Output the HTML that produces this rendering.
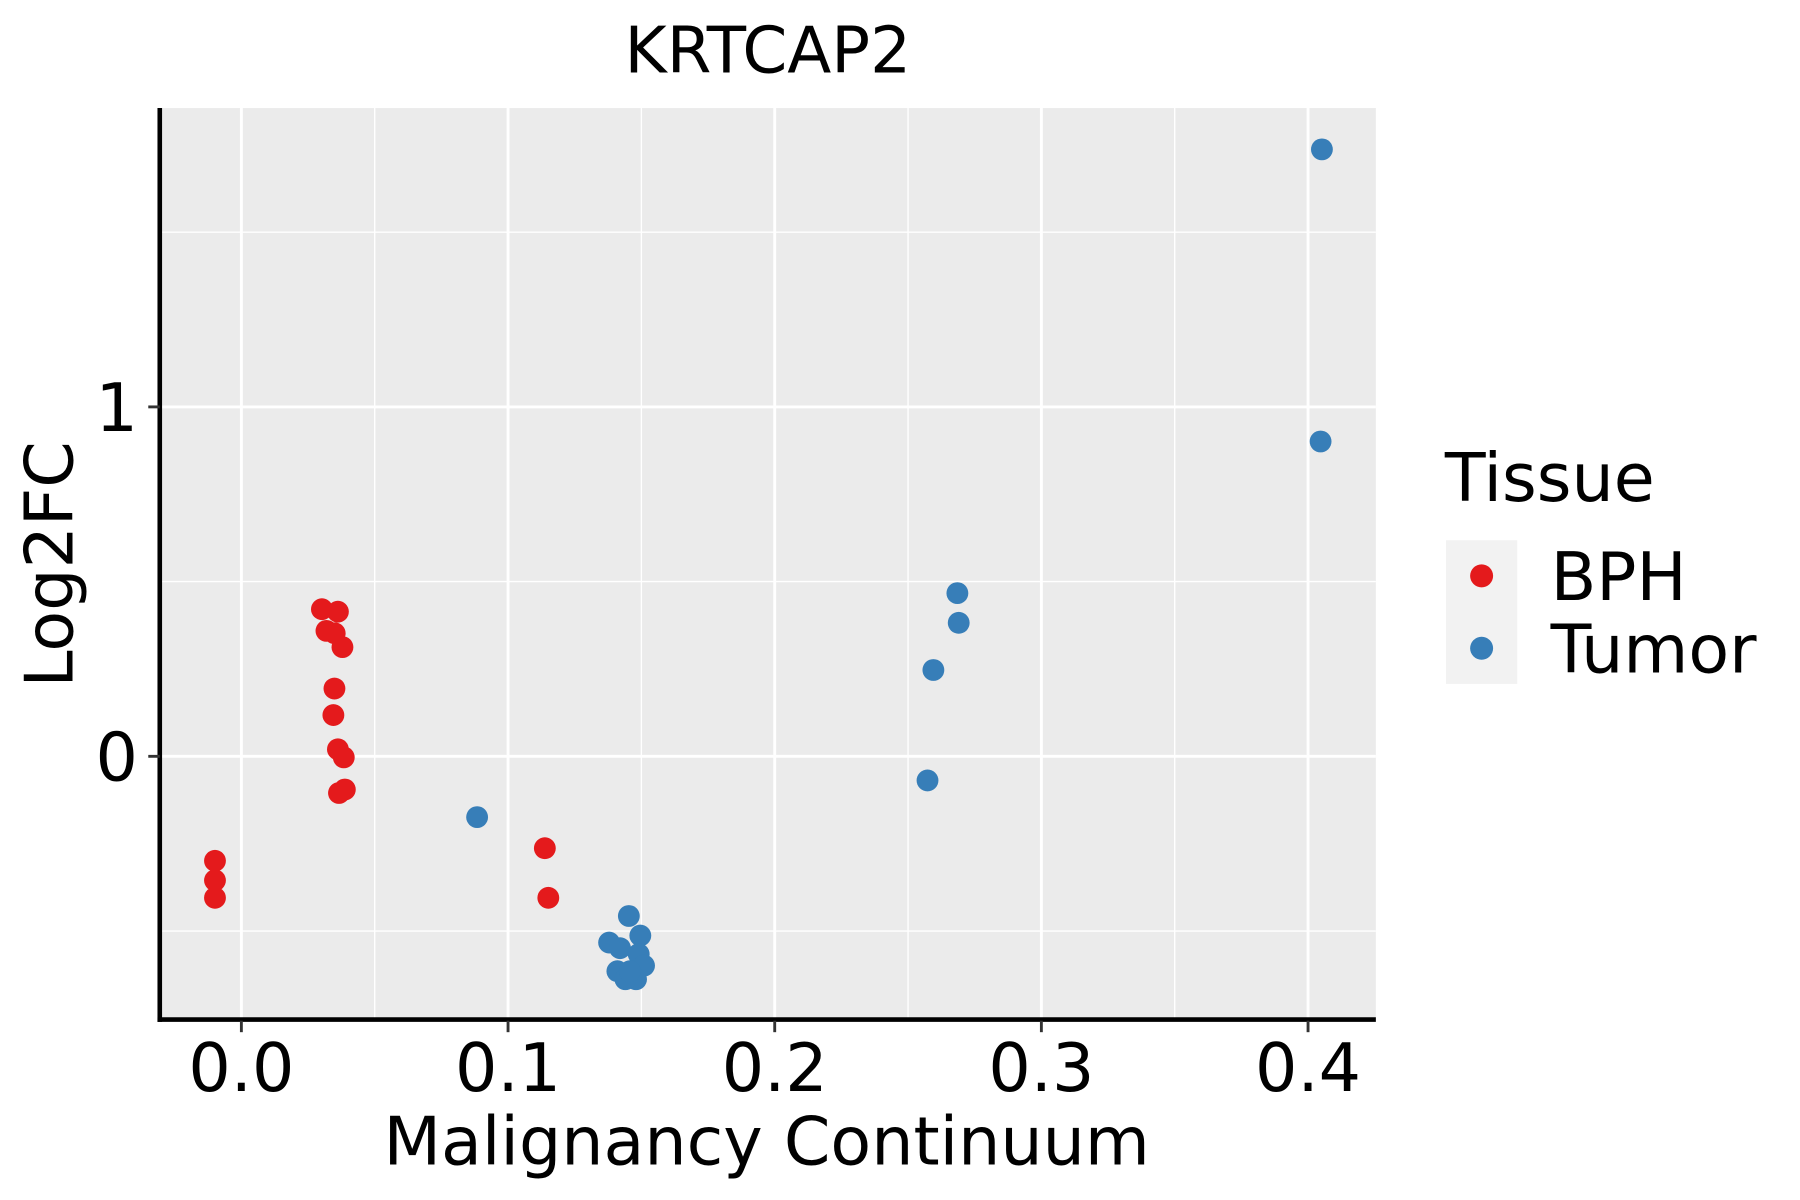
<!DOCTYPE html>
<html><head><meta charset="utf-8"><style>html,body{margin:0;padding:0;background:#fff}svg{display:block}text{font-family:"DejaVu Sans","Liberation Sans",sans-serif}</style></head>
<body>
<svg id="chart" width="1800" height="1200" viewBox="0 0 1566 1044" preserveAspectRatio="none" xmlns="http://www.w3.org/2000/svg">
<text x="668" y="63" font-size="56" text-anchor="middle">KRTCAP2</text>
<rect x="139" y="94" width="1058" height="793" fill="#ebebeb"/>
<g id="grid"></g>
<g id="points"></g>
<line x1="139" y1="94" x2="139" y2="889" stroke="#000" stroke-width="4"/>
<line x1="137" y1="887" x2="1197" y2="887" stroke="#000" stroke-width="4"/>
<g id="axes"></g>
<text x="667" y="1013" font-size="58" text-anchor="middle">Malignancy Continuum</text>
<text transform="translate(63,491) rotate(-90)" font-size="58" text-anchor="middle">Log2FC</text>
<g>
<text x="1257" y="436" font-size="58">Tissue</text>
<rect x="1258" y="470" width="62" height="125" fill="#f2f2f2"/>
<circle cx="1289" cy="501" r="10" fill="#e41a1c"/>
<circle cx="1289" cy="564" r="10" fill="#377eb8"/>
<text x="1349" y="522" font-size="58">BPH</text>
<text x="1349" y="585" font-size="58">Tumor</text>
</g>
</svg>
<script>
const xTicks=[0,0.1,0.2,0.3,0.4];
const xTickLabels=["0.0","0.1","0.2","0.3","0.4"];
const xMinor=[0.05,0.15,0.25,0.35];
const yTicks=[0,1];
const yTickLabels=["0","1"];
const yMinor=[-0.5,0.5,1.5];
const bphX=[-0.0099,-0.0099,-0.0099,0.0302,0.0362,0.0319,0.035,0.0379,0.0349,0.0345,0.0362,0.0384,0.0366,0.0388,0.1138,0.1151];
const bphY=[-0.299,-0.355,-0.405,0.421,0.414,0.359,0.352,0.3125,0.194,0.118,0.020,-0.003,-0.105,-0.095,-0.263,-0.405];
const tumorX=[0.0884,0.1453,0.1496,0.1379,0.142,0.149,0.151,0.141,0.1444,0.148,0.144,0.1457,0.2685,0.269,0.2595,0.2573,0.4047,0.4052];
const tumorY=[-0.174,-0.457,-0.513,-0.533,-0.549,-0.566,-0.599,-0.615,-0.632,-0.638,-0.638,-0.615,0.467,0.382,0.247,-0.069,0.901,1.737];
const NS='http://www.w3.org/2000/svg';
function sx(v){return 210+v*2320;}
function sy(v){return 658-v*304;}
function mk(tag,attrs,parent){const e=document.createElementNS(NS,tag);for(const k in attrs)e.setAttribute(k,attrs[k]);parent.appendChild(e);return e;}
const grid=document.getElementById('grid'),axes=document.getElementById('axes'),pts=document.getElementById('points');
xMinor.forEach(v=>{const l=mk('line',{x1:sx(v),x2:sx(v),y1:94,y2:887,stroke:'#fff','stroke-width':1.2},grid);

});
yMinor.forEach(v=>{const l=mk('line',{x1:139,x2:1197,y1:sy(v),y2:sy(v),stroke:'#fff','stroke-width':1.2},grid);

});
xTicks.forEach((v,i)=>{const l=mk('line',{x1:sx(v),x2:sx(v),y1:94,y2:887,stroke:'#fff','stroke-width':2.5},grid);


const t=mk('line',{x1:sx(v),x2:sx(v),y1:888,y2:898,stroke:'#333','stroke-width':2.5},axes);


const tx=mk('text',{x:sx(v),y:949,'font-size':58,'text-anchor':'middle'},axes);tx.textContent=xTickLabels[i];

});
yTicks.forEach((v,i)=>{const l=mk('line',{x1:139,x2:1197,y1:sy(v),y2:sy(v),stroke:'#fff','stroke-width':2.5},grid);


const t=mk('line',{x1:129,x2:139,y1:sy(v),y2:sy(v),stroke:'#333','stroke-width':2.5},axes);


const tx=mk('text',{x:120,y:sy(v)+21,'font-size':58,'text-anchor':'end'},axes);tx.textContent=yTickLabels[i];

});
bphX.forEach((v,i)=>{const c=mk('circle',{cx:sx(v),cy:sy(bphY[i]),r:9.5,fill:'#e41a1c'},pts);

});
tumorX.forEach((v,i)=>{const c=mk('circle',{cx:sx(v),cy:sy(tumorY[i]),r:9.5,fill:'#377eb8'},pts);

});
</script>
</body></html>
